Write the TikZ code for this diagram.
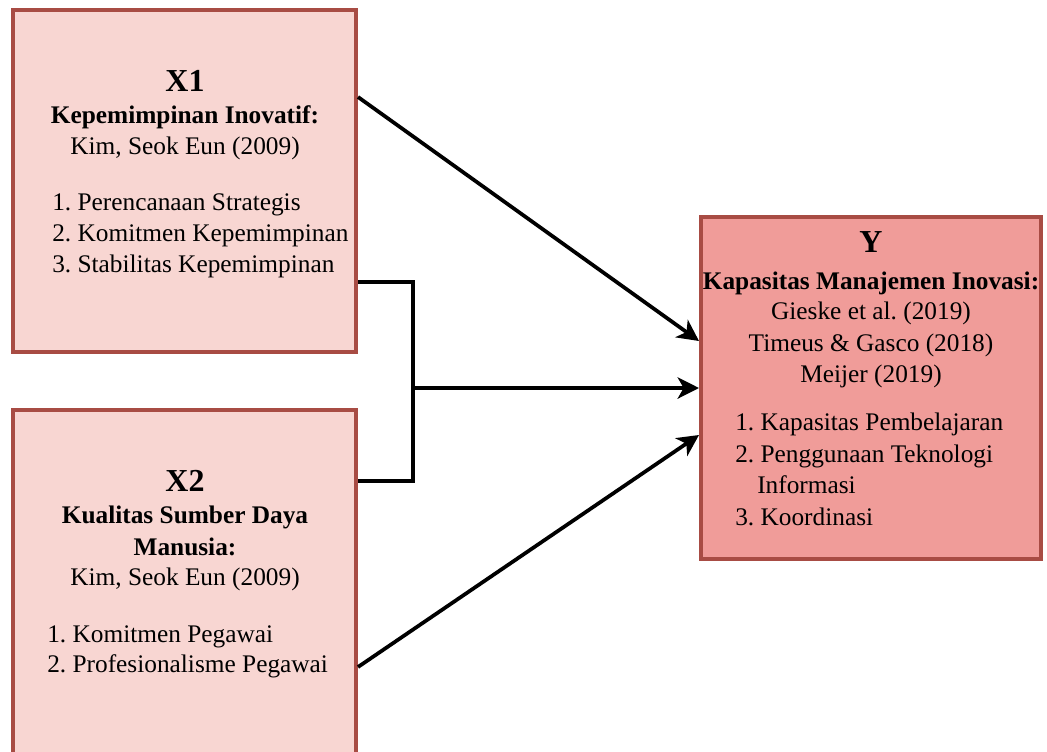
\documentclass[tikz,border=0pt]{standalone}
\usepackage{fontspec}
\setmainfont{Liberation Serif}
\frenchspacing
\usetikzlibrary{arrows.meta,fit}
\definecolor{xfill}{RGB}{248,214,210}
\definecolor{yfill}{RGB}{240,156,153}
\definecolor{bord}{RGB}{168,76,68}
\begin{document}
\begin{tikzpicture}[x=0.75pt,y=-0.75pt,
  box/.style={draw=bord,line width=3pt,inner sep=0pt},
  conn/.style={line width=2.8pt,-{Stealth[length=16pt,width=16pt,inset=4.5pt]}},
  line/.style={line width=2.8pt},
  txt/.style={anchor=base,inner sep=0pt,font=\fontsize{19}{23}\selectfont},
  hd/.style={anchor=base,inner sep=0pt,font=\fontsize{19}{23}\selectfont\bfseries},
  big/.style={anchor=base,inner sep=0pt,font=\fontsize{24}{28}\selectfont\bfseries},
  item/.style={anchor=base west,inner sep=0pt,font=\fontsize{19}{23}\selectfont}]
\clip (0,0) rectangle (1047,751);
\fill[white] (0,0) rectangle (1047,751);
% boxes
\node[box,fill=xfill,fit={(13,10)(356,352)}] (x1) {};
\node[box,fill=xfill,fit={(13,410)(356,780)}] (x2) {};
\node[box,fill=yfill,fit={(701,217)(1041,559)}] (y) {};
% X1 text
\node[big] (x1t) at (185,91) {X1};
\node[hd] (x1h) at (185,123) {Kepemimpinan Inovatif:};
\node[txt] (x1r) at (185,154) {Kim, Seok Eun (2009)};
\node[item] (x1a) at (52,210) {1. Perencanaan Strategis};
\node[item] (x1b) at (52,241) {2. Komitmen Kepemimpinan};
\node[item] (x1c) at (52,272) {3. Stabilitas Kepemimpinan};
% X2 text
\node[big] (x2t) at (185,491) {X2};
\node[hd] (x2h) at (185,523) {Kualitas Sumber Daya};
\node[hd] (x2h2) at (185,555) {Manusia:};
\node[txt] (x2r) at (185,585) {Kim, Seok Eun (2009)};
\node[item] (x2a) at (47,642) {1. Komitmen Pegawai};
\node[item] (x2b) at (47,672) {2. Profesionalisme Pegawai};
% Y text
\node[big] (yt) at (871,252) {Y};
\node[hd] (yh) at (871,289) {Kapasitas Manajemen Inovasi:};
\node[txt] (yr1) at (871,319) {Gieske et al. (2019)};
\node[txt] (yr2) at (871,351) {Timeus \& Gasco (2018)};
\node[txt] (yr3) at (871,382) {Meijer (2019)};
\node[item] (ya) at (735,430) {1. Kapasitas Pembelajaran};
\node[item] (yb) at (735,462) {2. Penggunaan Teknologi};
\node[item] (yb2) at (757,493) {Informasi};
\node[item] (yc) at (735,525) {3. Koordinasi};
% connectors
\coordinate (j) at (413,388);
\draw[conn] (x1.east |- 0,97) -- (y.west |- 0,341);
\draw[line] (x1.east |- 0,282) -- (j |- 0,282) -- (j |- 0,481) -- (x2.east |- 0,481);
\draw[conn] (j) -- (y.west |- j);
\draw[conn] (x2.east |- 0,667) -- (y.west |- 0,435);
\end{tikzpicture}
\end{document}
